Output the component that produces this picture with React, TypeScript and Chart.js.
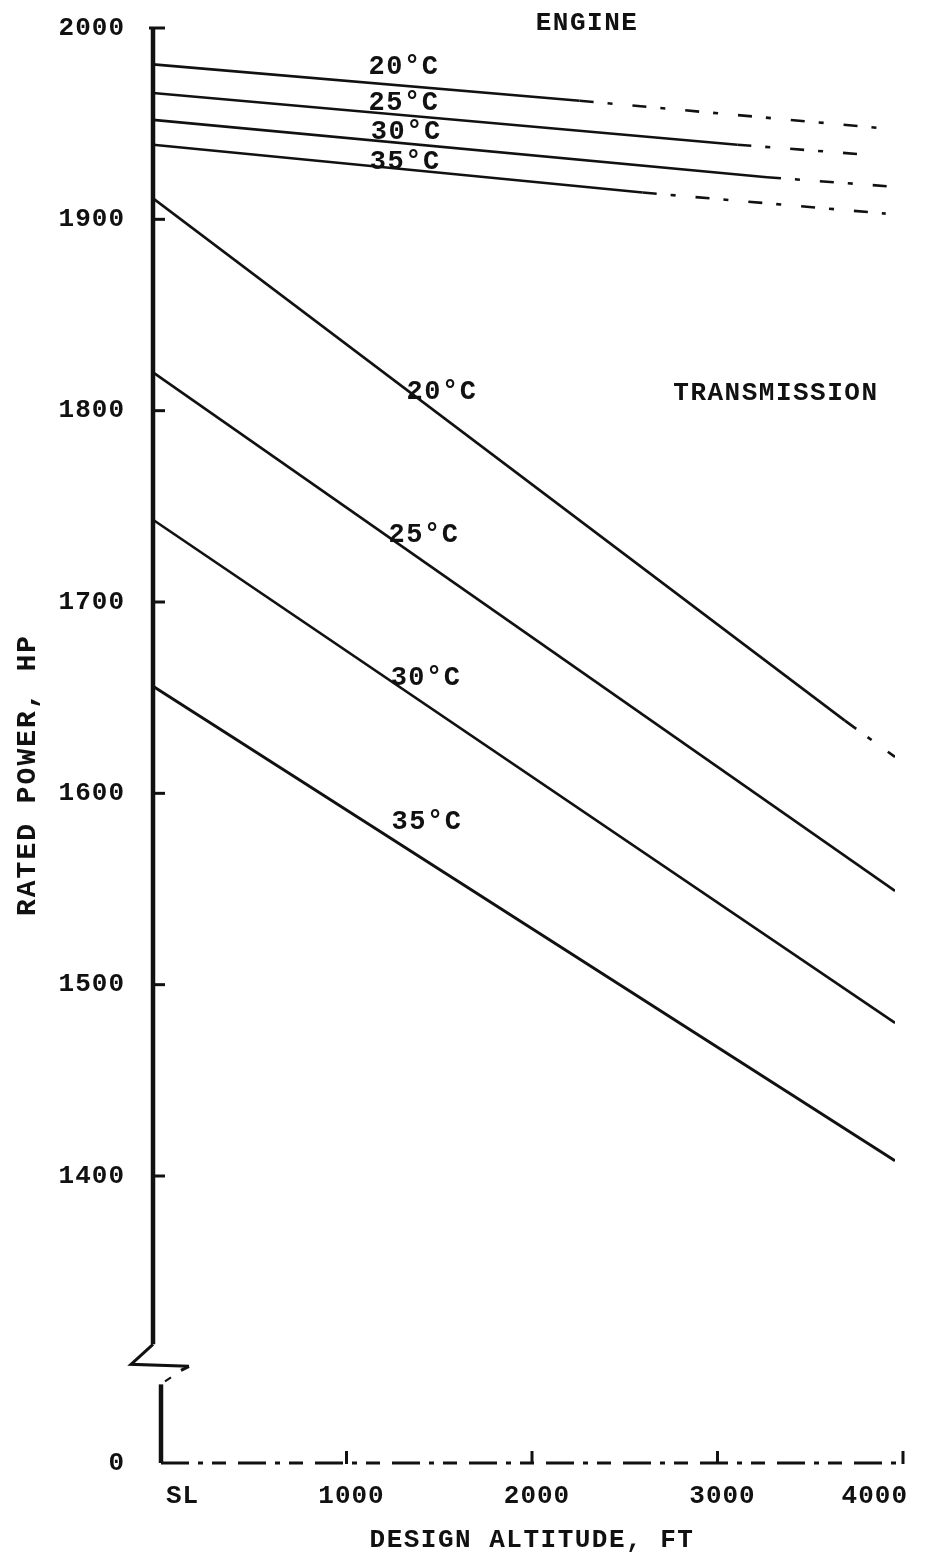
import React, { useEffect, useRef } from 'react';
import { Chart, registerables } from 'chart.js';

Chart.register(...registerables);

// ---- axis ticks ----
const ALT_TICKS = [0, 1000, 2000, 3000, 4000];
const ALT_TICK_LABELS = ['SL', '1000', '2000', '3000', '4000'];
const HP_TICKS = [1400, 1500, 1600, 1700, 1800, 1900, 2000];
const HP_AXIS_BASE = 1250; // position on the broken axis that stands for 0
const HP_BASE_LABEL = '0';
const HP_BREAK = 1312; // where the upper axis is broken

// ---- engine rated power (HP) vs design altitude (ft) ----
const ENGINE_20_ALT = [0, 2300, 4000];
const ENGINE_20_HP = [1981, 1962, 1947];
const ENGINE_25_ALT = [0, 3150, 3820];
const ENGINE_25_HP = [1966, 1939, 1934];
const ENGINE_30_ALT = [0, 3310, 4000];
const ENGINE_30_HP = [1952, 1922, 1917];
const ENGINE_35_ALT = [0, 2640, 3950];
const ENGINE_35_HP = [1939, 1914, 1903];

// ---- transmission rated power (HP) ----
const TRANS_20_ALT = [0, 3730, 4000];
const TRANS_20_HP = [1911, 1638, 1619];
const TRANS_25_ALT = [0, 4000];
const TRANS_25_HP = [1820, 1549];
const TRANS_30_ALT = [0, 4000];
const TRANS_30_HP = [1743, 1480];
const TRANS_35_ALT = [0, 4000];
const TRANS_35_HP = [1656, 1408];

const TEMP_LABELS = ['20°C', '25°C', '30°C', '35°C'];
const GROUP_LABELS = ['ENGINE', 'TRANSMISSION'];
const X_TITLE = 'DESIGN ALTITUDE, FT';
const Y_TITLE = 'RATED POWER, HP';

const INK = '#111';
const FONT_FAMILY = '"Liberation Mono", "DejaVu Sans Mono", monospace';

const pts = (xs: number[], ys: number[]) => xs.map((x, i) => ({ x, y: ys[i] }));

function series(xs: number[], ys: number[], dashFrom: number | null, width = 2.6) {
  return {
    data: pts(xs, ys),
    borderColor: INK,
    borderWidth: width,
    pointRadius: 0,
    tension: 0,
    fill: false,
    segment: {
      borderDash: (ctx: any) =>
        dashFrom !== null && ctx.p0DataIndex >= dashFrom ? [14, 14, 5, 20] : undefined,
    },
  };
}

const brokenAxisPlugin = {
  id: 'brokenAxis',
  beforeDraw(chart: any) {
    const ctx = chart.ctx;
    ctx.save();
    ctx.fillStyle = '#fff';
    ctx.fillRect(0, 0, chart.width, chart.height);
    ctx.restore();
    ctx.letterSpacing = '1px';
  },
  afterDraw(chart: any) {
    const ctx = chart.ctx;
    const { left, right, top, bottom } = chart.chartArea;
    const x = chart.scales.x;
    const y = chart.scales.y;
    ctx.save();
    ctx.strokeStyle = INK;
    ctx.fillStyle = INK;
    ctx.lineCap = 'butt';

    const yBreak = y.getPixelForValue(HP_BREAK);
    // upper vertical axis
    ctx.lineWidth = 4.5;
    ctx.beginPath();
    ctx.moveTo(left, top - 1);
    ctx.lineTo(left, yBreak);
    ctx.stroke();
    // y ticks
    ctx.lineWidth = 3;
    HP_TICKS.forEach((v) => {
      const py = y.getPixelForValue(v);
      ctx.beginPath();
      ctx.moveTo(v === 2000 ? left - 4 : left, py);
      ctx.lineTo(left + 12, py);
      ctx.stroke();
    });
    // break symbol
    ctx.lineWidth = 3;
    ctx.beginPath();
    ctx.moveTo(left, yBreak);
    ctx.lineTo(left - 22, yBreak + 20);
    ctx.lineTo(left + 36, yBreak + 22);
    ctx.stroke();
    ctx.beginPath();
    ctx.moveTo(left + 36, yBreak + 22);
    ctx.lineTo(left + 28, yBreak + 26);
    ctx.stroke();

    const lx = left + 8;
    ctx.lineWidth = 2;
    ctx.beginPath();
    ctx.moveTo(lx + 10, yBreak + 33);
    ctx.lineTo(lx + 4, yBreak + 37);
    ctx.stroke();
    // lower vertical segment
    ctx.lineWidth = 4.5;
    ctx.beginPath();
    ctx.moveTo(lx, yBreak + 40);
    ctx.lineTo(lx, bottom);
    ctx.stroke();

    // bottom axis (faded, broken)
    ctx.lineWidth = 3;
    ctx.setLineDash([28, 9, 5, 9, 14, 12]);
    ctx.beginPath();
    ctx.moveTo(lx, bottom);
    ctx.lineTo(right + 8, bottom);
    ctx.stroke();
    ctx.setLineDash([]);
    ALT_TICKS.slice(1).forEach((v) => {
      const px = x.getPixelForValue(v) + 8;
      ctx.beginPath();
      ctx.moveTo(px, bottom + 1);
      ctx.lineTo(px, bottom - 12);
      ctx.stroke();
    });

    // curve labels
    ctx.letterSpacing = '1.5px';
    ctx.font = `bold 27px ${FONT_FAMILY}`;
    ctx.textAlign = 'center';
    ctx.textBaseline = 'middle';
    const engineAnchors = [
      [1353, 1979.6],
      [1353, 1960.8],
      [1365, 1945.6],
      [1360, 1930],
    ];
    const transAnchors = [
      [1558, 1809.7],
      [1461, 1735],
      [1472, 1660],
      [1477, 1585],
    ];
    engineAnchors.forEach(([a, h], i) => {
      ctx.fillText(TEMP_LABELS[i], x.getPixelForValue(a), y.getPixelForValue(h));
    });
    transAnchors.forEach(([a, h], i) => {
      ctx.fillText(TEMP_LABELS[i], x.getPixelForValue(a), y.getPixelForValue(h));
    });
    ctx.font = `bold 26px ${FONT_FAMILY}`;
    ctx.fillText(GROUP_LABELS[0], x.getPixelForValue(2340), y.getPixelForValue(2002.6));
    ctx.fillText(GROUP_LABELS[1], x.getPixelForValue(3358), y.getPixelForValue(1809));

    // axis titles
    ctx.font = `bold 26px ${FONT_FAMILY}`;
    ctx.fillText(X_TITLE, 532, 1540);
    ctx.save();
    ctx.letterSpacing = '2px';
    ctx.font = `bold 28px ${FONT_FAMILY}`;
    ctx.translate(28, 775);
    ctx.rotate(-Math.PI / 2);
    ctx.fillText(Y_TITLE, 0, 0);
    ctx.restore();

    ctx.restore();
  },
};

export default function App() {
  const ref = useRef<HTMLCanvasElement>(null);

  useEffect(() => {
    const canvas = ref.current;
    if (!canvas) return;
    const tickFont = { family: FONT_FAMILY, size: 26, weight: 'bold' as const };
    const chart = new Chart(canvas, {
      type: 'line',
      data: {
        datasets: [
          series(ENGINE_20_ALT, ENGINE_20_HP, 1),
          series(ENGINE_25_ALT, ENGINE_25_HP, 1),
          series(ENGINE_30_ALT, ENGINE_30_HP, 1),
          series(ENGINE_35_ALT, ENGINE_35_HP, 1),
          series(TRANS_20_ALT, TRANS_20_HP, 1),
          series(TRANS_25_ALT, TRANS_25_HP, null),
          series(TRANS_30_ALT, TRANS_30_HP, null),
          series(TRANS_35_ALT, TRANS_35_HP, null, 3),
        ] as any,
      },
      options: {
        responsive: false,
        animation: false,
        devicePixelRatio: 1,
        layout: { padding: { top: 28, right: 32, left: 0, bottom: 0 } },
        plugins: { legend: { display: false }, tooltip: { enabled: false } },
        scales: {
          x: {
            type: 'linear',
            min: 0,
            max: 4000,
            afterBuildTicks: (s: any) => {
              s.ticks = ALT_TICKS.map((v) => ({ value: v }));
            },
            afterFit: (s: any) => {
              s.height = 93;
              s.paddingLeft = 0;
              s.paddingRight = 0;
            },
            ticks: {
              callback: (v: any) => ALT_TICK_LABELS[ALT_TICKS.indexOf(Number(v))] ?? '',
              font: tickFont,
              color: INK,
              padding: 18,
              labelOffset: 13,
              align: 'inner',
              maxRotation: 0,
              autoSkip: false,
            },
            grid: { display: false, drawTicks: false },
            border: { display: false },
          },
          y: {
            type: 'linear',
            min: HP_AXIS_BASE,
            max: 2000,
            afterBuildTicks: (s: any) => {
              s.ticks = [HP_AXIS_BASE, ...HP_TICKS].map((v) => ({ value: v }));
            },
            afterFit: (s: any) => {
              s.width = 153;
              s.paddingTop = 0;
              s.paddingBottom = 0;
            },
            ticks: {
              callback: (v: any) => (Number(v) === HP_AXIS_BASE ? HP_BASE_LABEL : String(v)),
              font: tickFont,
              color: INK,
              padding: 28,
              autoSkip: false,
            },
            grid: { display: false, drawTicks: false },
            border: { display: false },
          },
        },
      } as any,
      plugins: [brokenAxisPlugin],
    });
    return () => chart.destroy();
  }, []);

  return (
    <div style={{ position: 'absolute', left: 0, top: 0, width: 927, height: 1556, background: '#fff' }}>
      <canvas ref={ref} width={927} height={1556} style={{ display: 'block', width: 927, height: 1556 }} />
    </div>
  );
}
